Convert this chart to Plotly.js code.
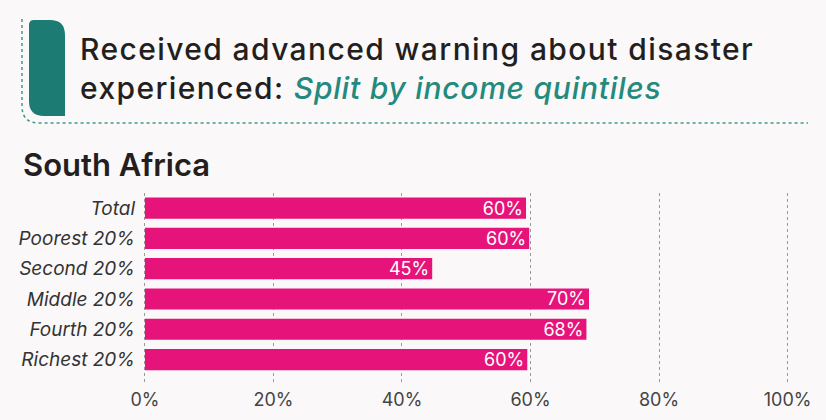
<!DOCTYPE html>
<html>
<head>
<meta charset="utf-8">
<script src="https://cdn.plot.ly/plotly-3.0.1.min.js"></script>
<style>
  html, body { margin: 0; padding: 0; background: #faf8f8; }
  #chart { width: 826px; height: 420px; }
</style>
</head>
<body>
<div id="chart"></div>
<script>
// income quintiles, top to bottom
var groups = ["Total", "Poorest 20%", "Second 20%", "Middle 20%", "Fourth 20%", "Richest 20%"];
var shares = [59.3, 59.8, 44.7, 69.1, 68.7, 59.5];
var shareLabels = ["60%", "60%", "45%", "70%", "68%", "60%"];
var tickVals = [0, 20, 40, 60, 80, 100];
var tickText = ["0%", "20%", "40%", "60%", "80%", "100%"];

var W = 826, H = 420;
var m = { l: 143, r: 32, t: 193, b: 37 };
// pixel -> paper helpers for the decoration around the heading
function px(x) { return (x - m.l) / (W - m.l - m.r); }
function py(y) { return (H - m.b - y) / (H - m.t - m.b); }

var pink = "#e6147a";
var teal = "#1c7b73";
var ink = "#231f20";
var spaced = "letter-spacing:1.4px";

var trace = {
  type: "bar",
  orientation: "h",
  y: groups,
  x: shares,
  text: shareLabels,
  textposition: "inside",
  insidetextanchor: "end",
  constraintext: "none",
  textfont: { family: "Inter, sans-serif", size: 18, color: "#ffffff" },
  marker: { color: pink },
  hoverinfo: "none"
};

// teal block with rounded corners
var bx0 = 29, bx1 = 65, by0 = 20, by1 = 116, r = 15, r0 = 5;
var blockPath = "M " + px(bx0) + "," + py(by0 + r0) +
  " Q " + px(bx0) + "," + py(by0) + " " + px(bx0 + r0) + "," + py(by0) +
  " L " + px(bx1 - r) + "," + py(by0) +
  " Q " + px(bx1) + "," + py(by0) + " " + px(bx1) + "," + py(by0 + r) +
  " L " + px(bx1) + "," + py(by1) +
  " L " + px(bx0 + r) + "," + py(by1) +
  " Q " + px(bx0) + "," + py(by1) + " " + px(bx0) + "," + py(by1 - r) + " Z";

var framePath = "M " + px(22) + "," + py(19) +
  " L " + px(22) + "," + py(106) +
  " Q " + px(22) + "," + py(123) + " " + px(39) + "," + py(123) +
  " L " + px(808) + "," + py(123);

var layout = {
  width: W,
  height: H,
  margin: m,
  paper_bgcolor: "#faf8f8",
  plot_bgcolor: "rgba(0,0,0,0)",
  showlegend: false,
  bargap: 0.3,
  font: { family: "Inter, sans-serif", color: ink },
  xaxis: {
    range: [-0.3, 101],
    tickvals: tickVals,
    ticktext: tickText,
    showgrid: true,
    gridcolor: "#9a9a9a",
    griddash: "dot",
    gridwidth: 1,
    zeroline: false,
    showline: false,
    ticks: "",
    ticklabelstandoff: 4,
    tickfont: { family: "Inter, sans-serif", size: 18, color: "#444444" },
    fixedrange: true
  },
  yaxis: {
    type: "category",
    range: [5.775, -0.5],
    showgrid: false,
    zeroline: false,
    showline: false,
    ticks: "",
    ticklabelstandoff: 7,
    tickfont: { family: "Inter, sans-serif", size: 19, color: "#333333", style: "italic" },
    fixedrange: true
  },
  shapes: [
    { type: "path", xref: "paper", yref: "paper", path: blockPath,
      fillcolor: teal, line: { width: 0 } },
    { type: "path", xref: "paper", yref: "paper", path: framePath,
      line: { color: "#3b9a90", width: 1.5, dash: "dot" } }
  ],
  annotations: [
    { xref: "paper", yref: "paper", x: px(78), y: py(48.8), xanchor: "left", yanchor: "middle",
      showarrow: false,
      text: "<span style='" + spaced + "'>Received advanced warning about disaster</span>",
      font: { family: "Inter, sans-serif", size: 30, color: ink, weight: 500 } },
    { xref: "paper", yref: "paper", x: px(78), y: py(87.8), xanchor: "left", yanchor: "middle",
      showarrow: false,
      text: "<span style='" + spaced + "'>experienced: </span><i><span style='color:#24897e;letter-spacing:0.75px'>Split by income quintiles</span></i>",
      font: { family: "Inter, sans-serif", size: 30, color: ink, weight: 500 } },
    { xref: "paper", yref: "paper", x: px(21), y: py(164.5), xanchor: "left", yanchor: "middle",
      showarrow: false, text: "South Africa",
      font: { family: "Inter, sans-serif", size: 31, color: ink, weight: 600 } }
  ]
};

Plotly.newPlot("chart", [trace], layout, { displayModeBar: false, staticPlot: true });
</script>
</body>
</html>
